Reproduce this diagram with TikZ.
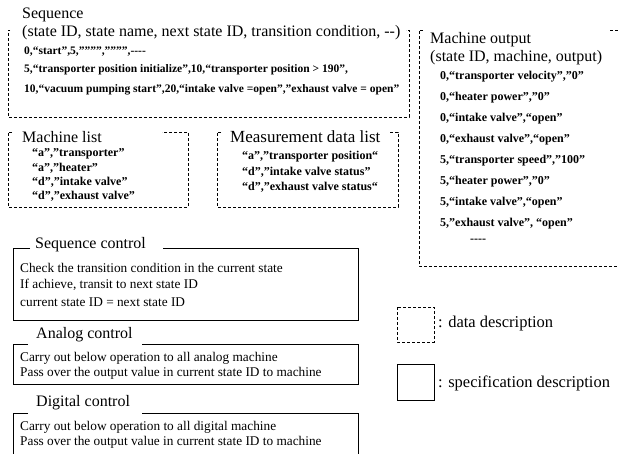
\documentclass[tikz,border=0pt]{standalone}
\usepackage{fontspec}
\setmainfont{Liberation Serif}
\begin{document}
\begin{tikzpicture}[x=1pt,y=-1pt,
  databox/.style={draw=black,line width=0.8pt,dash pattern=on 3pt off 2pt},
  specbox/.style={draw=black,line width=0.9pt},
  title/.style={anchor=west,inner sep=0pt,font=\fontsize{16}{18}\selectfont},
  entry/.style={anchor=west,inner sep=0pt,font=\fontsize{11.5}{13}\selectfont\bfseries},
  listentry/.style={entry,font=\fontsize{12}{13}\selectfont\bfseries},
  body/.style={anchor=west,inner sep=0pt,font=\fontsize{13.3}{15}\selectfont},
  legend/.style={anchor=west,inner sep=0pt,font=\fontsize{16.5}{18}\selectfont}]
\useasboundingbox[fill=white] (0,0) rectangle (618,453);

% ---- Sequence table (data) ----
\draw[databox] (10,30) -- (8,30) -- (8,117) -- (409,117) -- (409,30) -- (406,30);
\node[title] (seqT) at (22,15) {Sequence};
\node[title] (seqH) at (22,33) {(state ID, state name, next state ID, transition condition, -{}-)};
\node[entry] (seq0) at (24,52) {0,“start”,5,””””,””””,-{}-{}-{}-};
\node[entry] (seq5) at (24,70) {5,“transporter position initialize”,10,“transporter position > 190”,};
\node[entry] (seq10) at (24,90) {10,“vacuum pumping start”,20,“intake valve =open”,”exhaust valve = open”};

% ---- Machine list (data) ----
\draw[databox] (12,132) -- (8,132) -- (8,207) -- (188,207) -- (188,132) -- (162,132);
\node[title] (mlT) at (22,137) {Machine list};
\node[listentry] (ml1) at (32,154) {“a”,”transporter”};
\node[listentry] (ml2) at (32,168) {“a”,”heater”};
\node[listentry] (ml3) at (32,182) {“d”,”intake valve”};
\node[listentry] (ml4) at (32,196) {“d”,”exhaust valve”};

% ---- Measurement data list (data) ----
\draw[databox] (221,132) -- (217,132) -- (217,207) -- (398,207) -- (398,132) -- (390,132);
\node[title,font=\fontsize{17}{19}\selectfont] (mdT) at (230,137) {Measurement data list};
\node[listentry] (md1) at (242,157) {“a”,”transporter position“};
\node[listentry] (md2) at (242,172) {“d”,”intake valve status”};
\node[listentry] (md3) at (242,187) {“d”,”exhaust valve status“};

% ---- Machine output (data) ----
\draw[databox] (423,30) -- (419,30) -- (419,266) -- (622,266);
\draw[databox] (610,30) -- (622,30);
\node[title] (moT) at (430,40) {Machine output};
\node[title] (moH) at (430,58) {(state ID, machine, output)};
\node[listentry] (mo1) at (440,77) {0,“transporter velocity”,”0”};
\node[listentry] (mo2) at (440,98) {0,“heater power”,”0”};
\node[listentry] (mo3) at (440,119) {0,“intake valve”,“open”};
\node[listentry] (mo4) at (440,140) {0,“exhaust valve”,“open”};
\node[listentry] (mo5) at (440,161) {5,“transporter speed”,”100”};
\node[listentry] (mo6) at (440,182) {5,“heater power”,”0”};
\node[listentry] (mo7) at (440,203) {5,“intake valve”,“open”};
\node[listentry] (mo8) at (440,224) {5,”exhaust valve”, “open”};
\node[listentry] (mo9) at (470,241) {-{}-{}-{}-};

% ---- Sequence control (specification) ----
\draw[specbox] (30,248) -- (13,248) -- (13,320) -- (358,320) -- (358,248) -- (163,248);
\node[title] (scT) at (35,245) {Sequence control};
\node[body] (sc1) at (20,268) {Check the transition condition in the current state};
\node[body] (sc2) at (20,285) {If achieve, transit to next state ID};
\node[body] (sc3) at (20,302) {current state ID = next state ID};

% ---- Analog control (specification) ----
\draw[specbox] (28,344) -- (13,344) -- (13,384) -- (358,384) -- (358,344) -- (142,344);
\node[title] (acT) at (36,335) {Analog control};
\node[body] (ac1) at (20,358) {Carry out below operation to all analog machine};
\node[body] (ac2) at (20,373) {Pass over the output value in current state ID to machine};

% ---- Digital control (specification) ----
\draw[specbox] (28,413) -- (13,413) -- (13,460);
\draw[specbox] (142,413) -- (358,413) -- (358,460);
\node[title] (dcT) at (36,403) {Digital control};
\node[body] (dc1) at (20,427) {Carry out below operation to all digital machine};
\node[body] (dc2) at (20,442) {Pass over the output value in current state ID to machine};

% ---- Legend ----
\draw[databox] (397,307) rectangle (434,342);
\node[legend] (lgD) at (438,324) {: data description};
\draw[specbox] (397,364) rectangle (434,400);
\node[legend] (lgS) at (438,383) {: specification description};
\end{tikzpicture}
\end{document}
